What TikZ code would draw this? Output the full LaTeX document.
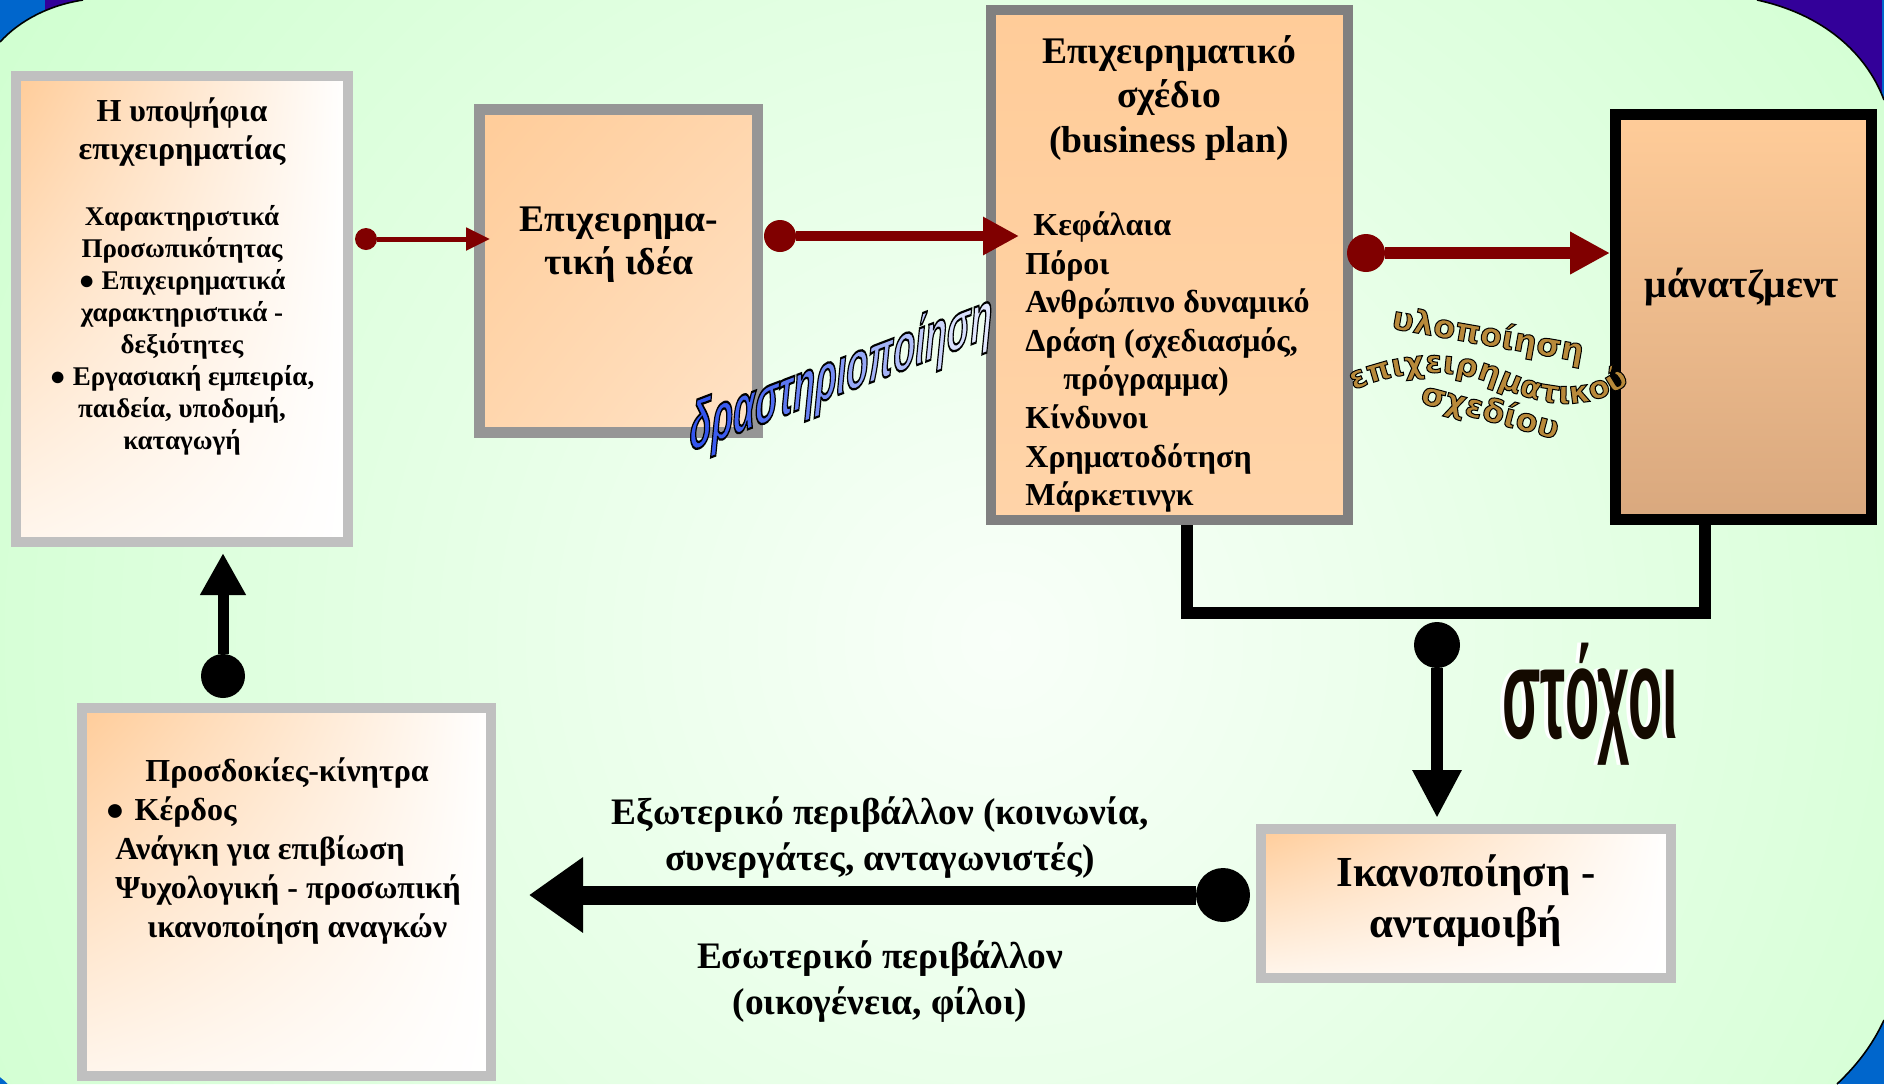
\documentclass[tikz,border=0pt]{standalone}
\usepackage{fontspec}
\setmainfont{Liberation Serif}
\newfontfamily\artsans{Liberation Sans}
\newfontfamily\artwide{DejaVu Sans}
\usepackage{xcolor}
\usetikzlibrary{
    arrows.meta,
    calc,
    decorations.text,
    shadings,
    positioning
}

\definecolor{bggreen}{HTML}{CCFFCC}
\definecolor{peach}{HTML}{FFCC99}
\definecolor{mgmttan}{HTML}{D9A87E}
\definecolor{arrowred}{HTML}{800000}
\definecolor{slideblue}{HTML}{0066CC}
\definecolor{slidepurple}{HTML}{330099}
\definecolor{framelight}{HTML}{C0C0C0}
\definecolor{framemid}{HTML}{969696}
\definecolor{framedark}{HTML}{808080}
\definecolor{artblue}{HTML}{3355EE}
\definecolor{artgold}{HTML}{B8893A}
\definecolor{goalblack}{HTML}{140A00}

\newcommand{\outlineon}[1]{\special{pdf:literal direct 0 0 0 RG #1 w 2 Tr}}
\newcommand{\outlineoff}{\special{pdf:literal direct 0 Tr}}
\newcommand{\bl}[2]{\textcolor{artblue!#1!white}{\special{pdf:literal direct 0 0 0 RG}#2}}
\newcommand{\implfont}{\artwide\bfseries\fontsize{15.5}{15.5}\selectfont\color{artgold}\outlineon{0.5}}

\begin{document}
\begin{tikzpicture}[x=0.5pt, y=-0.5pt,
    panel/.style={rectangle, inner sep=0pt, shade},
    softpanel/.style={panel, draw=framelight, line width=5pt,
        upper left=peach, upper right=white, lower left=peach!18!white, lower right=white},
    ideapanel/.style={panel, draw=framemid, line width=5.5pt,
        upper left=peach, upper right=peach!80!white, lower left=peach!80!white, lower right=peach!55!white},
    planpanel/.style={panel, draw=framedark, line width=5pt, top color=peach, bottom color=peach!85!white},
    mgmtpanel/.style={panel, draw=black, line width=5.5pt, top color=peach, bottom color=mgmttan},
    joint/.style={circle, fill=#1, inner sep=0pt},
    redthin/.style={draw=arrowred, line width=2.5pt, -{Triangle[length=12pt,width=11pt]}},
    redmid/.style={draw=arrowred, line width=5pt, -{Triangle[length=18pt,width=18pt]}},
    redthick/.style={draw=arrowred, line width=6pt, -{Triangle[length=20pt,width=20pt]}},
    downarrow/.style={line width=6pt, -{Triangle[length=24pt,width=23pt]}},
    leftarrow/.style={line width=9.5pt, -{Triangle[length=27pt,width=36pt]}},
    uparrow/.style={line width=5.5pt, -{Triangle[length=21pt,width=21.5pt]}},
    bracket/.style={line width=6pt, line join=miter},
    candhead/.style={inner sep=0pt, align=center, font=\bfseries\fontsize{16}{19}\selectfont},
    candbody/.style={inner sep=0pt, align=center, font=\bfseries\fontsize{13.5}{16}\selectfont},
    ideatext/.style={inner sep=0pt, align=center, font=\bfseries\fontsize{18.8}{21.5}\selectfont},
    planhead/.style={inner sep=0pt, align=center, font=\bfseries\fontsize{18.8}{22.3}\selectfont},
    planbody/.style={inner sep=0pt, align=left, anchor=west, font=\bfseries\fontsize{16}{19.3}\selectfont},
    mgmttext/.style={inner sep=0pt, font=\bfseries\fontsize{19.8}{22}\selectfont},
    expectbody/.style={inner sep=0pt, align=left, anchor=west, font=\bfseries\fontsize{16}{19.4}\selectfont},
    rewardtext/.style={inner sep=0pt, align=center, font=\bfseries\fontsize{21.4}{25.5}\selectfont},
    envtext/.style={inner sep=0pt, align=center, font=\bfseries\fontsize{18.7}{23}\selectfont},
    activart/.style={inner sep=0pt, yslant=0.38, yscale=1.9,
        font=\artsans\bfseries\itshape\fontsize{17.8}{17.8}\selectfont},
    implart/.style={inner sep=0pt, text=artgold, font=\artwide\bfseries\fontsize{16}{16}\selectfont},
    goalart/.style={inner sep=0pt, xscale=0.78, yscale=1.8, font=\artsans\bfseries\fontsize{36}{36}\selectfont}
]
\useasboundingbox (0,0) rectangle (1884,1084);

% slide background
\fill[slideblue] (0,0) rectangle (1884,1084);
\fill[slidepurple] (45,0) rectangle (1882,92);
\path[path picture={\shade[inner color=bggreen!12!white, outer color=bggreen] (1000,640) circle[radius=1300];}]
    (0,42) .. controls (20,20) and (50,5) .. (83,0) -- (1757,0)
    .. controls (1822,14) and (1866,52) .. (1884,100) -- (1884,1020)
    .. controls (1872,1046) and (1856,1066) .. (1837,1084) -- (8,1084)
    .. controls (5,1081) .. (0,1077) -- cycle;
\draw[line width=0.8pt] (0,42) .. controls (20,20) and (50,5) .. (83,0);
\draw[line width=0.8pt] (1757,0) .. controls (1822,14) and (1866,52) .. (1884,100);
\draw[line width=0.8pt] (1884,1020) .. controls (1872,1046) and (1856,1066) .. (1837,1084);

% boxes
\node[softpanel, minimum width=166pt, minimum height=233pt] (cand) at (182,309) {};
\node[ideapanel, minimum width=139pt, minimum height=161.5pt] (idea) at (618.5,271) {};
\node[planpanel, minimum width=178.5pt, minimum height=255pt] (plan) at (1169.5,265) {};
\node[mgmtpanel, minimum width=128pt, minimum height=202.5pt] (mgmt) at (1743.5,317) {};
\node[softpanel, minimum width=204.5pt, minimum height=184pt] (expect) at (286.5,892) {};
\node[softpanel, minimum width=205pt, minimum height=74.5pt] (reward) at (1466,903.5) {};

% texts in the boxes
\node[candhead] (candtitle) at (182,132) {Η υποψήφια\\επιχειρηματίας};
\node[candbody] (candtraits) at (182,330) {Χαρακτηριστικά\\Προσωπικότητας\\● Επιχειρηματικά\\χαρακτηριστικά -\\δεξιότητες\\● Εργασιακή εμπειρία,\\παιδεία, υποδομή,\\καταγωγή};
\node[ideatext] (ideatitle) at (619,245) {Επιχειρημα-\\τική ιδέα};
\node[planhead] (plantitle) at (1169,98) {Επιχειρηματικό\\σχέδιο\\(business plan)};
\node[planbody] (planlist) at (1025,362) {\hspace*{4pt}Κεφάλαια\\Πόροι\\Ανθρώπινο δυναμικό\\Δράση (σχεδιασμός,\\\hspace*{19pt}πρόγραμμα)\\Κίνδυνοι\\Χρηματοδότηση\\Μάρκετινγκ};
\node[mgmttext] (mgmttitle) at (1742,287) {μάνατζμεντ};
\node[expectbody] (expectlist) at (115,851) {\hspace*{15pt}Προσδοκίες-κίνητρα\\\hspace*{-5pt}●\hspace*{5pt}Κέρδος\\Ανάγκη για επιβίωση\\Ψυχολογική - προσωπική\\\hspace*{16pt}ικανοποίηση αναγκών};
\node[rewardtext] (rewardtitle) at (1466,901) {Ικανοποίηση -\\ανταμοιβή};
\node[envtext] (outerenv) at (880,838) {Εξωτερικό περιβάλλον (κοινωνία,\\συνεργάτες, ανταγωνιστές)};
\node[envtext] (innerenv) at (880,982) {Εσωτερικό περιβάλλον\\(οικογένεια, φίλοι)};

% connectors
\node[joint=arrowred, minimum size=11pt] (dotA) at (366,239) {};
\node[joint=arrowred, minimum size=16pt] (dotB) at (780,236) {};
\node[joint=arrowred, minimum size=19pt] (dotC) at (1366,253) {};
\node[joint=black, minimum size=23pt] (dotD) at (1437,645) {};
\node[joint=black, minimum size=27pt] (dotE) at (1223,895) {};
\node[joint=black, minimum size=22pt] (dotF) at (223,676) {};
\coordinate (brL) at (1187,613);
\coordinate (brR) at (1705,613);

\draw[redthin, shorten >=-8pt] (dotA) -- (dotA -| idea.west);
\draw[redmid] (dotB) -- ($(dotB -| plan.west)+(33,0)$);
\draw[redthick] (dotC) -- (dotC -| mgmt.west);
\draw[bracket] (brL |- plan.south) -- (brL) -- (brR) -- (brR |- mgmt.south);
\draw[downarrow, shorten >=3pt] (dotD) -- (dotD |- reward.north);
\draw[leftarrow] (dotE) -- ($(dotE -| expect.east)+(33,0)$);
\draw[uparrow, shorten >=3pt] (dotF) -- (dotF |- cand.south);

% word art
\node[activart] (activ) at (841,376) {\outlineon{0.6}\bl{100}{δ}\bl{96}{ρ}\bl{92}{α}\bl{86}{σ}\bl{80}{τ}\bl{74}{η}\bl{67}{ρ}\bl{60}{ι}\bl{52}{ο}\bl{45}{π}\bl{38}{ο}\bl{31}{ί}\bl{25}{η}\bl{19}{σ}\bl{14}{η}\outlineoff};
\node[implart, rotate=-10] (implA) at (1488,336) {\outlineon{0.5}υλοποίηση\outlineoff};
\path[decorate, decoration={text along path, text align=center, text={|\implfont|επιχειρηματικού}}]
    (1333,401) .. controls (1400,362) and (1460,369) .. (1500,387)
    .. controls (1545,407) and (1600,417) .. (1647,367);
\node[implart, rotate=-15] (implC) at (1490,412) {\outlineon{0.5}σχεδίου\outlineoff};
\node[goalart, text=white] (goalsback) at (1586,704) {στόχοι};
\node[goalart, text=goalblack] (goals) at (1590,704) {στόχοι};
\end{tikzpicture}
\end{document}
